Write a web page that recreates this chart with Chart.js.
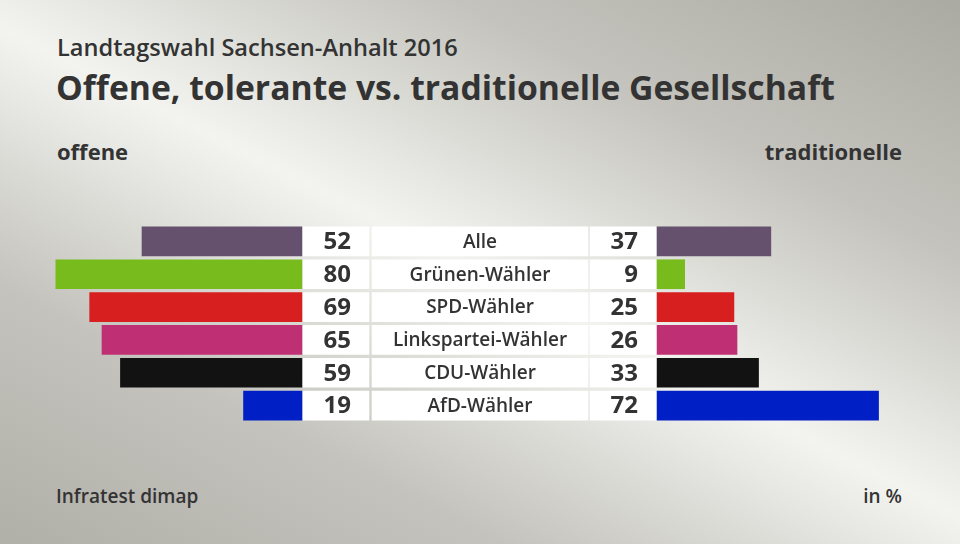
<!DOCTYPE html>
<html>
<head>
<meta charset="utf-8">
<script src="https://cdn.jsdelivr.net/npm/chart.js@4.4.1/dist/chart.umd.min.js"></script>
<style>
  html, body { margin: 0; padding: 0; }
  #wrap {
    position: relative; width: 960px; height: 544px; overflow: hidden;
    background: linear-gradient(27deg, #b0afa8 0%, #c4c3bd 25%, #f3f4f0 50%, #c4c3bd 75%, #abaaa2 100%);
    font-family: "Open Sans", Lato, sans-serif; color: #333;
  }
  .t { position: absolute; white-space: nowrap; line-height: 1; font-weight: 700; }
  #sub { left: 57px; top: 36px; font-size: 23.6px; font-weight: 600; }
  #title { left: 56px; top: 71px; font-size: 33.7px; }
  #left { left: 57px; top: 140px; font-size: 22px; }
  #right { right: 58px; top: 140px; font-size: 22px; }
  #src, #unit { top: 487px; font-size: 19px; font-weight: 600; }
  #src { left: 56px; }
  #unit { right: 58px; }
  #chart { position: absolute; left: 0; top: 0; width: 960px; height: 544px; }
</style>
</head>
<body>
<div id="wrap">
  <div class="t" id="sub">Landtagswahl Sachsen-Anhalt 2016</div>
  <div class="t" id="title">Offene, tolerante vs. traditionelle Gesellschaft</div>
  <div class="t" id="left">offene</div>
  <div class="t" id="right">traditionelle</div>
  <div class="t" id="src">Infratest dimap</div>
  <div class="t" id="unit">in %</div>
  <div id="chart"><canvas id="c" width="960" height="544"></canvas></div>
</div>
<script>
  "use strict";

  // data
  const groups = ["Alle", "Grünen-Wähler", "SPD-Wähler", "Linkspartei-Wähler", "CDU-Wähler", "AfD-Wähler"];
  const offene = [52, 80, 69, 65, 59, 19];
  const traditionelle = [37, 9, 25, 26, 33, 72];
  const colors = ["#65506e", "#77bb1c", "#d71f1f", "#bf2f74", "#121212", "#0020c6"];

  // layout (pixels)
  const PX = 3.077;          // pixels per percentage point
  const ORIGIN = 302;        // where left bars end
  const RIGHT_ORIGIN = 657;  // where right bars start
  const u = function (px) { return (px - ORIGIN) / PX; };
  const GAP = u(RIGHT_ORIGIN);

  const boxes = [[303, 369], [372, 588], [590, 656]];

  const datasets = boxes.map(function (b) {
    return {
      data: groups.map(function () { return [u(b[0]), u(b[1])]; }),
      backgroundColor: "#ffffff",
      grouped: false,
      barThickness: 29
    };
  });
  datasets.push({
    data: offene.map(function (v) { return [-v, 0]; }),
    backgroundColor: colors,
    grouped: false,
    barThickness: 29
  });
  datasets.push({
    data: traditionelle.map(function (v) { return [GAP, GAP + v]; }),
    backgroundColor: colors,
    grouped: false,
    barThickness: 29
  });

  // value and group labels, placed on the bars' rows
  const labelPlugin = {
    id: "labels",
    afterDatasetsDraw: function (chart) {
      const ctx = chart.ctx;
      const x = chart.scales.x, y = chart.scales.y;
      ctx.save();
      ctx.fillStyle = "#333";
      ctx.textBaseline = "middle";
      groups.forEach(function (g, i) {
        const yc = y.getPixelForValue(i) + 1;
        ctx.font = "700 24px 'Open Sans'";
        ctx.textAlign = "right";
        ctx.fillText(String(offene[i]), x.getPixelForValue(0) + 49, yc);
        ctx.fillText(String(traditionelle[i]), x.getPixelForValue(GAP) - 19, yc);
        ctx.font = "600 19px 'Open Sans'";
        ctx.textAlign = "center";
        ctx.fillText(g, x.getPixelForValue(u(480)), yc);
      });
      ctx.restore();
    }
  };

  new Chart(document.getElementById("c"), {
    type: "bar",
    data: { labels: groups, datasets: datasets },
    options: {
      indexAxis: "y",
      responsive: false,
      animation: false,
      layout: { padding: { top: 225, bottom: 122, left: 0, right: 0 } },
      plugins: { legend: { display: false }, tooltip: { enabled: false } },
      scales: {
        x: { type: "linear", min: u(0), max: u(960), display: false },
        y: { display: false }
      }
    },
    plugins: [labelPlugin]
  });
</script>
</body>
</html>
